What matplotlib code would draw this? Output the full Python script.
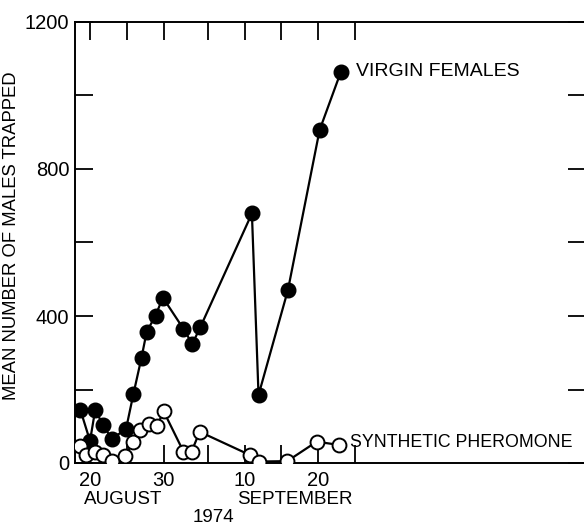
import matplotlib
matplotlib.use("Agg")
import matplotlib.pyplot as plt

# days counted from 1 August 1974 (1 September = 32)
vf_day = [18.7, 20.0, 20.7, 21.8, 22.95, 24.9, 25.9, 27.0, 27.7, 28.9, 29.9,
          32.7, 33.9, 35.0, 42.0, 42.9, 46.9, 51.2, 54.1]
vf_mean = [144, 60, 144, 103, 65, 93, 188, 287, 357, 401, 450,
           365, 324, 370, 679, 185, 471, 906, 1065]

sp_day = [18.7, 19.5, 20.7, 21.8, 22.95, 24.8, 25.8, 26.8, 28.0, 29.1, 30.0,
          32.7, 33.8, 34.9, 41.7, 42.9, 46.8, 50.8, 53.9]
sp_mean = [45, 22, 31, 23, 6, 19, 56, 90, 107, 100, 141,
           31, 31, 85, 22, 4, 5, 58, 49]

tick_days = [20, 25, 30, 36, 41, 46, 51, 56]
tick_text = ["20", "", "30", "", "10", "", "20", ""]
y_ticks = [0, 200, 400, 600, 800, 1000, 1200]
y_text = ["0", "", "400", "", "800", "", "1200"]

plt.rcParams["font.family"] = ["Liberation Sans", "DejaVu Sans"]
plt.rcParams["font.size"] = 14

W, H = 584, 525
fig = plt.figure(figsize=(W / 100, H / 100), dpi=100)
ax = fig.add_axes([75 / W, 62 / H, 511 / W, 441 / H])

ax.plot(vf_day, vf_mean, "-o", color="black", lw=1.6, ms=10.5,
        mfc="black", mec="black", zorder=3)
ax.plot(sp_day, sp_mean, "-o", color="black", lw=1.6, ms=10,
        mfc="white", mec="black", mew=1.4, zorder=4)

ax.annotate("VIRGIN FEMALES", (vf_day[-1], vf_mean[-1]), xytext=(10.5, 0),
            textcoords="offset points", va="center", ha="left", fontsize=14)
ax.annotate("SYNTHETIC PHEROMONE", (sp_day[-1], sp_mean[-1]), xytext=(7.5, 1.5),
            textcoords="offset points", va="center", ha="left", fontsize=12.8)

ax.set_xlim(17.96, 87.4)
ax.set_ylim(0, 1200)
ax.set_xticks(tick_days, tick_text)
ax.set_yticks(y_ticks, y_text)
ax.tick_params(direction="in", length=13, width=1.3, top=True, right=True,
               labelsize=14.5)
ax.tick_params(axis="x", pad=6)
ax.tick_params(axis="y", pad=4)
for s in ax.spines.values():
    s.set_linewidth(1.4)

ax.set_ylabel("MEAN NUMBER OF MALES TRAPPED", fontsize=13.3)
ax.yaxis.set_label_coords(-0.108, 0.515)

trans = ax.get_xaxis_transform()
ax.text(24.5, -0.082, "AUGUST", transform=trans, ha="center", va="center",
        fontsize=13.5)
ax.text(47.9, -0.082, "SEPTEMBER", transform=trans, ha="center", va="center",
        fontsize=13.5)
ax.text(36.8, -0.123, "1974", transform=trans, ha="center", va="center",
        fontsize=13.5)

fig.savefig("out.png", dpi=100)
